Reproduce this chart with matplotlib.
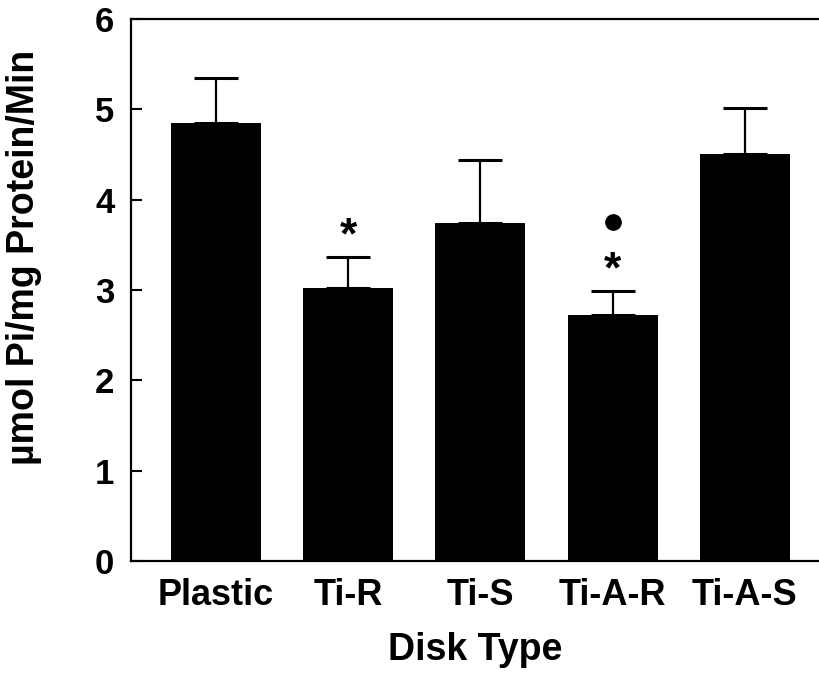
import matplotlib
matplotlib.use('Agg')
import matplotlib.pyplot as plt
import numpy as np

plt.rcParams['font.family'] = ['Liberation Sans', 'DejaVu Sans']

# actividad de fosfatasa alcalina por tipo de disco
disk_types = ['Plastic', 'Ti-R', 'Ti-S', 'Ti-A-R', 'Ti-A-S']
activity = [4.85, 3.02, 3.74, 2.72, 4.51]
sem = [0.50, 0.35, 0.70, 0.27, 0.50]
star_marks = [1, 3]   # barras con *
dot_marks = [3]       # barras con punto

fig = plt.figure(figsize=(8.19, 6.79), dpi=100)
ax = fig.add_axes([0.16, 0.174, 0.84, 0.798])

x = np.arange(len(disk_types))
ax.bar(x, activity, width=0.68, color='black', zorder=2)
ax.errorbar(x, activity, yerr=[np.zeros(len(sem)), sem], fmt='none',
            ecolor='black', elinewidth=1.6, capsize=16, capthick=2.2, zorder=1)

tops = np.array(activity) + np.array(sem)
for i in star_marks:
    ax.text(x[i], tops[i] + 0.22, '*', ha='center', va='center',
            fontsize=32, fontweight='bold')
for i in dot_marks:
    ax.plot(x[i], tops[i] + 0.76, 'o', color='black', markersize=11)

ax.set_xlim(-0.64, 4.56)
ax.set_ylim(0, 6)
ax.set_yticks(range(0, 7))
ax.set_xticks(x)
ax.set_xticklabels(disk_types)

ax.spines['right'].set_visible(False)
for s in ['left', 'bottom', 'top']:
    ax.spines[s].set_linewidth(1.6)

ax.tick_params(axis='y', direction='in', length=8, width=1.5, pad=12,
               labelsize=25)
ax.tick_params(axis='x', length=0, pad=12, labelsize=26)
for lbl in ax.get_xticklabels() + ax.get_yticklabels():
    lbl.set_fontweight('bold')

ax.set_xlabel('Disk Type', fontsize=27, fontweight='bold')
ax.xaxis.set_label_coords(0.5, -0.165)
ax.xaxis.label.set_va('center')
ax.set_ylabel('µmol Pi/mg Protein/Min', fontsize=27, fontweight='bold')
ax.yaxis.set_label_coords(-0.155, 0.56)
ax.yaxis.label.set_va('center')

plt.savefig('out.png', dpi=100)
